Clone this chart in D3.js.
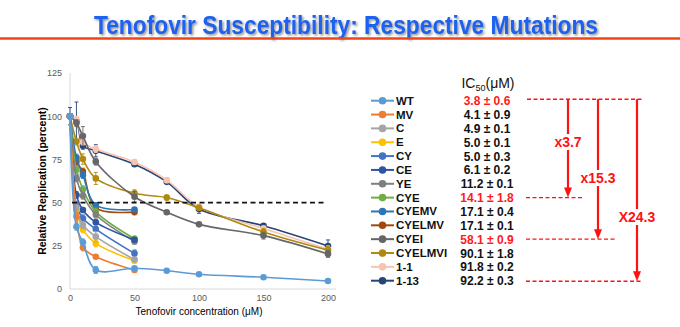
<!DOCTYPE html>
<html>
<head>
<meta charset="utf-8">
<script src="https://cdn.jsdelivr.net/npm/d3@7"></script>
<style>
  body { margin: 0; background: #fff; }
  svg { display: block; font-family: "Liberation Sans", Arial, sans-serif; }
</style>
</head>
<body>
<div id="chart"></div>
<script>
// concentrations (uM)
const concLong = [0, 5, 10, 20, 50, 75, 100, 150, 200];
const concShort = [0, 5, 10, 20, 50];

const seriesNames = ["WT", "MV", "C", "E", "CY", "CE", "YE", "CYE", "CYEMV", "CYELMV", "CYEI", "CYELMVI", "1-1", "1-13"];
const seriesColors = ["#5b9bd5", "#ed7d31", "#a5a5a5", "#ffc000", "#4472c4", "#2f55a0", "#7f7f7f", "#70ad47",
  "#2e75b6", "#a0480e", "#666666", "#b08a10", "#f8c4b0", "#264478"];

// relative replication (percent)
const valWT = [100, 36, 27, 11, 12, 10.6, 8.5, 6.8, 4.6];
const valMV = [100, 42, 24, 18.7, 11];
const valC = [100, 47, 37, 30.3, 17];
const valE = [100, 45.7, 34.5, 26.4, 16.4];
const valCY = [100, 48.6, 40.9, 34.7, 20.6];
const valCE = [100, 54.4, 45.7, 38.6, 28.5];
const valYE = [100, 64, 54, 43, 27.5];
const valCYE = [100, 69, 57.7, 44.8, 29.1];
const valCYEMV = [100, 76, 66, 48.5, 46];
const valCYELMV = [100, 73.7, 67.9, 47, 44.5];
const valCYEI = [100, 96, 88.5, 73.7, 53.4, 44.4, 37.4, 30.9, 20.3];
const valCYELMVI = [100, 85.3, 75.2, 64, 55.4, 52.9, 47, 33, 22.5];
const val11 = [100, 98, 85, 81, 73.5, 63, 47.5, 35, 23];
const val113 = [100, 97.2, 82.9, 80, 72.2, 62, 46.3, 36.6, 24.9];

// error bar half-widths
const errWT = [0, 2, 2, 2, 1, 1, 1, 1, 1];
const errMV = [0, 2, 2, 1, 1.5];
const errC = [0, 2, 2, 3, 1];
const errE = [0, 2, 2, 2, 1];
const errCY = [0, 2, 2, 1.5, 2];
const errCE = [0, 2, 1.5, 1.5, 1];
const errYE = [0, 2, 2, 2, 1.5];
const errCYE = [0, 2, 2, 2, 1.5];
const errCYEMV = [0, 2, 2, 1.5, 1];
const errCYELMV = [0, 2, 2, 1.5, 1.5];
const errCYEI = [0, 2, 5.5, 2, 3, 1, 1, 2, 2];
const errCYELMVI = [0, 2, 3, 3.5, 2, 1.5, 1.5, 2, 2];
const err11 = [0, 2, 2, 2, 1.5, 1.5, 1.5, 1.5, 2];
const err113 = [5, 11, 2, 3.5, 1, 1, 2.5, 1, 3.5];

const seriesValues = [valWT, valMV, valC, valE, valCY, valCE, valYE, valCYE, valCYEMV, valCYELMV, valCYEI, valCYELMVI, val11, val113];
const seriesErrors = [errWT, errMV, errC, errE, errCY, errCE, errYE, errCYE, errCYEMV, errCYELMV, errCYEI, errCYELMVI, err11, err113];

const ic50Labels = ["3.8 \u00b1 0.6", "4.1 \u00b1 0.9", "4.9 \u00b1 0.1", "5.0 \u00b1 0.1", "5.0 \u00b1 0.3", "6.1 \u00b1 0.2",
  "11.2 \u00b1 0.1", "14.1 \u00b1 1.8", "17.1 \u00b1 0.4", "17.1 \u00b1 0.1", "58.1 \u00b1 0.9", "90.1 \u00b1 1.8",
  "91.8 \u00b1 0.2", "92.2 \u00b1 0.3"];
const ic50Highlight = ["WT", "CYE", "CYEI"];
const foldLabels = ["x3.7", "x15.3", "X24.3"];
const foldTargets = ["CYE", "CYEI", "1-13"];

const xTicks = [0, 50, 100, 150, 200];
const yTicks = [0, 25, 50, 75, 100, 125];

const W = 680, H = 327;
const svg = d3.select("#chart").append("svg").attr("width", W).attr("height", H);

const defs = svg.append("defs");
defs.append("filter").attr("id", "shadow")
  .attr("x", "-5%").attr("y", "-30%").attr("width", "110%").attr("height", "160%")
  .append("feDropShadow")
  .attr("dx", 1.5).attr("dy", 1.5).attr("stdDeviation", 0.9)
  .attr("flood-color", "#444").attr("flood-opacity", 0.6);

// title
svg.append("text")
  .attr("x", 346).attr("y", 34)
  .attr("text-anchor", "middle")
  .attr("font-size", 25).attr("font-weight", "bold")
  .attr("textLength", 504).attr("lengthAdjust", "spacingAndGlyphs")
  .attr("fill", "#1a62ee")
  .attr("filter", "url(#shadow)")
  .text("Tenofovir Susceptibility: Respective Mutations");
svg.append("line")
  .attr("x1", 0).attr("x2", 680).attr("y1", 38.5).attr("y2", 38.5)
  .attr("stroke", "#f0441a").attr("stroke-width", 2.5);

// scales
const x = d3.scaleLinear().domain([0, 200]).range([70, 328]);
const y = d3.scaleLinear().domain([0, 125]).range([289, 73]);

// axis lines
svg.append("line").attr("x1", 70).attr("x2", 70).attr("y1", y(125)).attr("y2", y(0))
  .attr("stroke", "#d9d9d9");
svg.append("line").attr("x1", 70).attr("x2", 336).attr("y1", y(0)).attr("y2", y(0))
  .attr("stroke", "#d9d9d9");

const yAxis = svg.append("g")
  .attr("transform", "translate(70,0)")
  .call(d3.axisLeft(y).tickValues(yTicks).tickSize(0).tickPadding(8));
yAxis.select(".domain").remove();
yAxis.selectAll("text").attr("font-size", 9).attr("fill", "#595959")
  .attr("font-family", "Liberation Sans, Arial, sans-serif");

const xAxis = svg.append("g")
  .attr("transform", `translate(0,${y(0)})`)
  .call(d3.axisBottom(x).tickValues(xTicks).tickSize(0).tickPadding(6));
xAxis.select(".domain").remove();
xAxis.selectAll("text").attr("font-size", 9).attr("fill", "#595959")
  .attr("font-family", "Liberation Sans, Arial, sans-serif");

svg.append("text")
  .attr("transform", "translate(46,181) rotate(-90)")
  .attr("text-anchor", "middle")
  .attr("font-size", 10.5).attr("font-weight", "bold")
  .text("Relative Replication (percent)");
svg.append("text")
  .attr("x", 199).attr("y", 315)
  .attr("text-anchor", "middle")
  .attr("font-size", 10)
  .text("Tenofovir concentration (\u03bcM)");

// series
const line = d3.line()
  .x(d => x(d.c))
  .y(d => y(d.v))
  .curve(d3.curveCatmullRom.alpha(0.5));

const series = seriesNames.map((name, i) => {
  const vals = seriesValues[i];
  const conc = vals.length === concLong.length ? concLong : concShort;
  return {
    name, color: seriesColors[i],
    pts: vals.map((v, j) => ({ c: conc[j], v, e: seriesErrors[i][j] }))
  };
});

// draw from last to first so that WT etc. stay on top like the original
const drawOrder = series.slice().reverse();

const g = svg.append("g");
drawOrder.forEach(s => {
  const sg = g.append("g");
  sg.selectAll("g.err")
    .data(s.pts.filter(p => p.e > 0))
    .enter().append("path")
    .attr("d", p => {
      const cx = x(p.c), y1 = y(p.v + p.e), y2 = y(p.v - p.e);
      return `M${cx},${y1}V${y2}M${cx - 2},${y1}H${cx + 2}M${cx - 2},${y2}H${cx + 2}`;
    })
    .attr("stroke", s.color).attr("stroke-width", 1).attr("fill", "none").attr("opacity", 0.9);
  sg.append("path")
    .datum(s.pts)
    .attr("d", line)
    .attr("fill", "none")
    .attr("stroke", s.color)
    .attr("stroke-width", 1.6);
  sg.selectAll("circle")
    .data(s.pts)
    .enter().append("circle")
    .attr("cx", p => x(p.c))
    .attr("cy", p => y(p.v))
    .attr("r", 3.3)
    .attr("fill", s.color);
});

// 50% reference line
svg.append("line")
  .attr("x1", 72).attr("x2", 326).attr("y1", y(50)).attr("y2", y(50))
  .attr("stroke", "#111").attr("stroke-width", 1.6).attr("stroke-dasharray", "5,3.5");

// legend
const rowY = d3.scalePoint().domain(seriesNames).range([100.7, 280.7]);
const leg = svg.append("g");
seriesNames.forEach((name, i) => {
  const ly = rowY(name);
  leg.append("line").attr("x1", 371).attr("x2", 394).attr("y1", ly).attr("y2", ly)
    .attr("stroke", seriesColors[i]).attr("stroke-width", 2);
  leg.append("circle").attr("cx", 382.5).attr("cy", ly).attr("r", 3.8).attr("fill", seriesColors[i]);
  leg.append("text").attr("x", 396).attr("y", ly + 4)
    .attr("font-size", 11.5).attr("font-weight", "bold").attr("fill", "#111")
    .text(name);
  leg.append("text").attr("x", 487).attr("y", ly + 4.5)
    .attr("text-anchor", "middle")
    .attr("font-size", 12).attr("font-weight", "bold")
    .attr("fill", ic50Highlight.includes(name) ? "#ff1a1a" : "#111")
    .text(ic50Labels[i]);
});

// IC50 header
const hdr = svg.append("text").attr("x", 488).attr("y", 88).attr("text-anchor", "middle")
  .attr("font-size", 14).attr("fill", "#111");
hdr.append("tspan").text("IC");
hdr.append("tspan").attr("font-size", 9).attr("dy", 3).text("50");
hdr.append("tspan").attr("dy", -3).text("(\u03bcM)");

// fold-change annotations
const red = "#ff1212";
const topY = rowY("WT") - 1.5;
svg.append("line").attr("x1", 527).attr("x2", 643).attr("y1", topY).attr("y2", topY)
  .attr("stroke", red).attr("stroke-width", 1.4).attr("stroke-dasharray", "4,2.5");
const dashEnds = [582, 615, 642];
const arrowX = [568, 598, 637];
const labelY = [145, 181, 220];
foldTargets.forEach((t, i) => {
  const ty = rowY(t) + (t === "1-13" ? 0.5 : 0);
  svg.append("line").attr("x1", 526).attr("x2", dashEnds[i]).attr("y1", ty).attr("y2", ty)
    .attr("stroke", red).attr("stroke-width", 1.4).attr("stroke-dasharray", "4,2.5");
  const ax = arrowX[i];
  svg.append("line").attr("x1", ax).attr("x2", ax).attr("y1", topY).attr("y2", ty - 8)
    .attr("stroke", red).attr("stroke-width", 2.2);
  svg.append("path")
    .attr("d", `M${ax - 4},${ty - 10}L${ax + 4},${ty - 10}L${ax},${ty}Z`)
    .attr("fill", red);
  const lw = foldLabels[i].length * 7.2 + 2;
  svg.append("rect").attr("x", ax - lw / 2).attr("y", labelY[i] - 11)
    .attr("width", lw).attr("height", 16).attr("fill", "#fff");
  svg.append("text").attr("x", ax).attr("y", labelY[i] + 2)
    .attr("text-anchor", "middle")
    .attr("font-family", "'Liberation Sans Narrow', 'Liberation Sans', Arial, sans-serif")
    .attr("font-size", 14).attr("font-weight", "bold").attr("fill", red)
    .text(foldLabels[i]);
});
</script>
</body>
</html>
